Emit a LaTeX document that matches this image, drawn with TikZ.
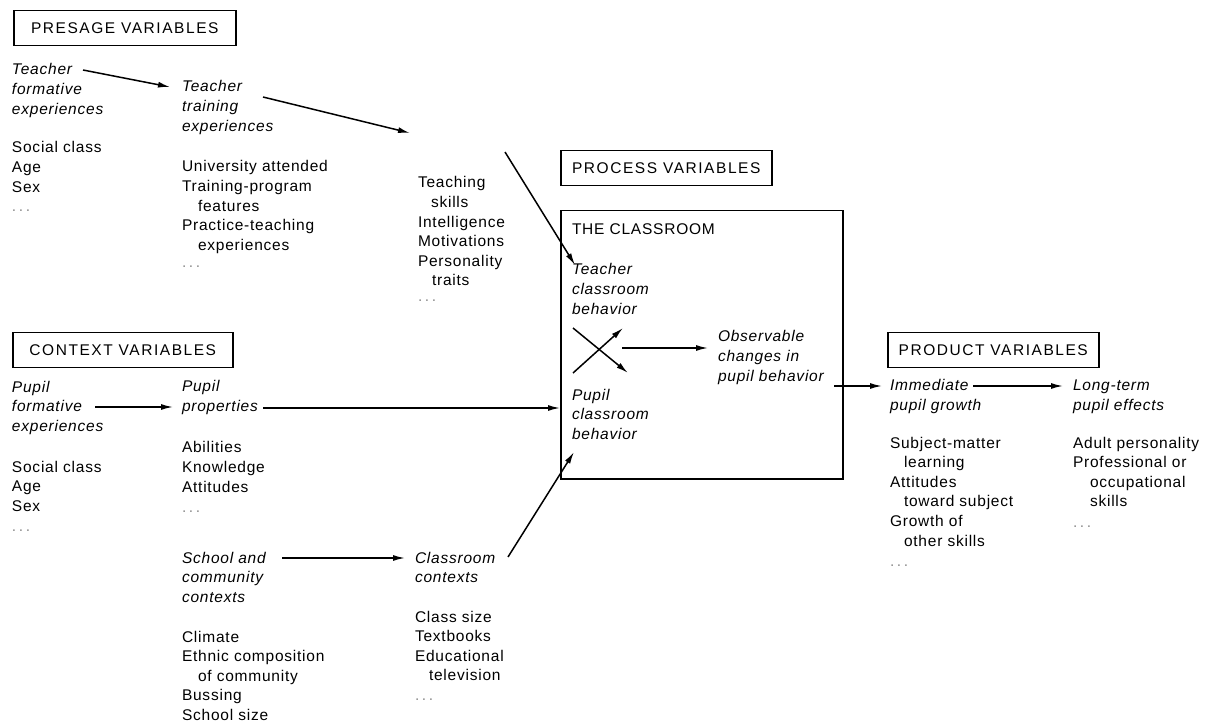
\documentclass[tikz,border=0pt]{standalone}
\usepackage{fontspec}
\setmainfont{Liberation Sans}[LetterSpace=5]
\usetikzlibrary{arrows.meta}
\begin{document}
\begin{tikzpicture}[x=1pt,y=-1pt,
  txt/.style={anchor=north west, inner sep=0pt, outer sep=0pt, align=left, yshift=13.72pt,
    font=\fontsize{15.5}{19.6}\selectfont},
  itx/.style={txt, font=\fontsize{15.5}{19.6}\selectfont\itshape},
  dots/.style={txt, text=black!45},
  hdr/.style={draw, line width=1.5pt, inner sep=0pt, minimum height=35pt, anchor=north west,
    font=\fontsize{15.5}{19.6}\selectfont\addfontfeature{LetterSpace=10}},
  conn/.style={line width=1.5pt, -{Latex[length=12pt,width=6pt]}}]
\useasboundingbox (0,0) rectangle (1219,727);

% ---------------- Presage ----------------
\node[hdr, minimum width=222pt] (presage) at (13,10) {PRESAGE VARIABLES};
\node[itx] (tfe) at (12,75) {\strut Teacher\\formative\\experiences};
\node[txt] (tfel) at (12,153) {\strut Social class\\Age\\Sex};
\node[dots] (tfed) at (12,212) {\strut .\,.\,.};
\node[itx] (tte) at (182,92) {\strut Teacher\\training\\experiences};
\node[txt] (ttel) at (182,172) {\strut University attended\\Training-program\\\hspace*{16pt}features\\Practice-teaching\\\hspace*{16pt}experiences};
\node[dots] (tted) at (182,268) {\strut .\,.\,.};
\node[txt] (tch) at (418,188) {\strut Teaching\\\hspace*{13pt}skills\\Intelligence\\Motivations\\Personality\\\hspace*{14pt}traits};
\node[dots] (tchd) at (418,302) {\strut .\,.\,.};

% ---------------- Process ----------------
\node[hdr, minimum width=211pt] (process) at (560,150) {PROCESS VARIABLES};
\node[draw, line width=1.5pt, minimum width=282pt, minimum height=268pt, anchor=north west, inner sep=0pt] (room) at (560,210) {};
\node[txt] (theroom) at (572,235) {\strut THE CLASSROOM};
\node[itx] (tcb) at (572,275) {\strut Teacher\\classroom\\behavior};
\node[itx] (pcb) at (572,400) {\strut Pupil\\classroom\\behavior};
\node[itx] (obs) at (718,342) {\strut Observable\\changes in\\pupil behavior};

% ---------------- Context ----------------
\node[hdr, minimum width=220pt] (context) at (12,332) {CONTEXT VARIABLES};
\node[itx] (pfe) at (12,392) {\strut Pupil\\formative\\experiences};
\node[txt] (pfel) at (12,472) {\strut Social class\\Age\\Sex};
\node[dots] (pfed) at (12,531) {\strut .\,.\,.};
\node[itx] (pp) at (182,392) {\strut Pupil\\properties};
\node[txt] (ppl) at (182,453) {\strut Abilities\\Knowledge\\Attitudes};
\node[dots] (ppd) at (182,512) {\strut .\,.\,.};
\node[itx] (scc) at (182,563) {\strut School and\\community\\contexts};
\node[txt] (sccl) at (182,642) {\strut Climate\\Ethnic composition\\\hspace*{16pt}of community\\Bussing\\School size};
\node[itx] (cc) at (415,563) {\strut Classroom\\contexts};
\node[txt] (ccl) at (415,622) {\strut Class size\\Textbooks\\Educational\\\hspace*{14pt}television};
\node[dots] (ccd) at (415,700) {\strut .\,.\,.};

% ---------------- Product ----------------
\node[hdr, minimum width=211pt] (product) at (887,332) {PRODUCT VARIABLES};
\node[itx] (ipg) at (890,391) {\strut Immediate\\pupil growth};
\node[txt] (ipgl) at (890,448) {\strut Subject-matter\\\hspace*{14pt}learning\\Attitudes\\\hspace*{14pt}toward subject\\Growth of\\\hspace*{14pt}other skills};
\node[dots] (ipgd) at (890,566) {\strut .\,.\,.};
\node[itx] (lpe) at (1073,391) {\strut Long-term\\pupil effects};
\node[txt] (lpel) at (1073,448) {\strut Adult personality\\Professional or\\\hspace*{17pt}occupational\\\hspace*{17pt}skills};
\node[dots] (lped) at (1073,527) {\strut .\,.\,.};

% ---------------- connector ends ----------------
\coordinate (a1s) at (83,70);   \coordinate (a1e) at (170,87);
\coordinate (a2s) at (263,97);  \coordinate (a2e) at (410,133);
\coordinate (a3s) at (505,152); \coordinate (a3e) at (575,265);
\coordinate (a4s) at (95,407);  \coordinate (a4e) at (173,407);
\coordinate (a5s) at (263,408);
\coordinate (a6s) at (282,558); \coordinate (a6e) at (405,558);
\coordinate (a7s) at (508,557); \coordinate (a7e) at (574,452);
\coordinate (x1s) at (573,328); \coordinate (x1e) at (628,373);
\coordinate (x2s) at (573,373); \coordinate (x2e) at (623,328);
\coordinate (a8s) at (622,348); \coordinate (a8e) at (708,348);
\coordinate (a9s) at (834,386); \coordinate (a9e) at (882,386);
\coordinate (a10s) at (973,386); \coordinate (a10e) at (1063,386);

\draw[conn] (a1s) -- (a1e);
\draw[conn] (a2s) -- (a2e);
\draw[conn] (a3s) -- (a3e);
\draw[conn] (a4s) -- (a4e);
\draw[conn] (a5s) -- (a5s -| room.west);
\draw[conn] (a6s) -- (a6e);
\draw[conn] (a7s) -- (a7e);
\draw[conn] (x1s) -- (x1e);
\draw[conn] (x2s) -- (x2e);
\draw[conn] (a8s) -- (a8e);
\draw[conn] (a9s) -- (a9e);
\draw[conn] (a10s) -- (a10e);
\end{tikzpicture}
\end{document}
